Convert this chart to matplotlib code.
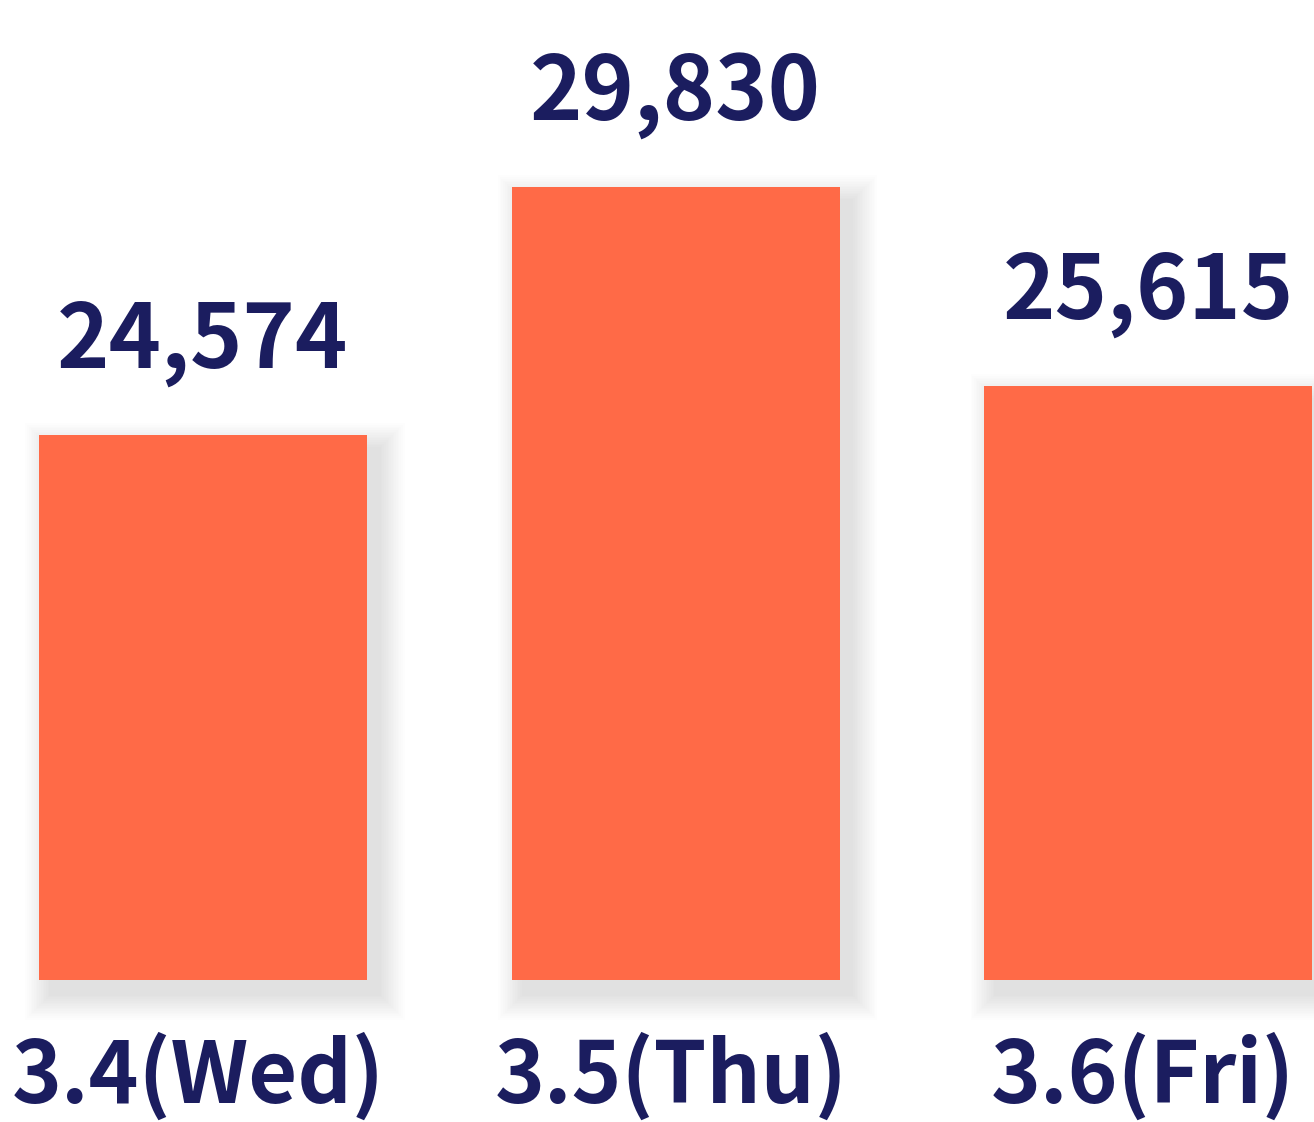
import matplotlib
matplotlib.use("Agg")
import matplotlib.pyplot as plt
from matplotlib.patches import Rectangle

# ---------------- data ----------------
categories = ["3.4(Wed)", "3.5(Thu)", "3.6(Fri)"]
values = [24574, 29830, 25615]
value_labels = ["24,574", "29,830", "25,615"]

base = 13000  # bars start from this value
bar_color = "#FF6A47"
text_color = "#1B1D5F"
font = ["Noto Sans CJK KR", "DejaVu Sans"]

# ---------------- layout ----------------
W, H = 1314, 1122
fig = plt.figure(figsize=(W / 100, H / 100), dpi=100)
ax = fig.add_axes([0, 0, 1, 1])

px_x = 472.5                      # pixels per category step
k = 793 / (max(values) - base)    # pixels per value unit
x0 = 203                          # pixel centre of first bar
ax.set_xlim(-x0 / px_x, (W - x0) / px_x)
ax.set_ylim(base - 142 / k, max(values) + 187 / k)
ax.axis("off")

xs = list(range(len(values)))
width = 328 / px_x

# soft shadow behind the bars (offset right/down)
for i, v in enumerate(values):
    for s in range(1, 16):
        grow = s * 1.7
        left = xs[i] - width / 2 + (12 - grow) / px_x
        bottom = base + (-14 - grow) / k
        rect = Rectangle((left, bottom), width + 2 * grow / px_x,
                         (v - base) + 2 * grow / k,
                         facecolor="#000000", alpha=0.008, lw=0, zorder=1)
        ax.add_patch(rect)

ax.bar(xs, [v - base for v in values], bottom=base, width=width,
       color=bar_color, zorder=2)

for i, v in enumerate(values):
    ax.annotate(value_labels[i], (xs[i], v), xytext=(0, 48),
                textcoords="offset points", ha="center", va="baseline",
                fontsize=64, fontweight="bold", color=text_color,
                family=font, zorder=3)
    ax.text(xs[i] - 0.01, 19 / H, categories[i],
            transform=ax.get_xaxis_transform(),
            ha="center", va="baseline", fontsize=61, fontweight="bold",
            color=text_color, family=font, zorder=3)

fig.savefig("out.png", dpi=100, facecolor="white")
